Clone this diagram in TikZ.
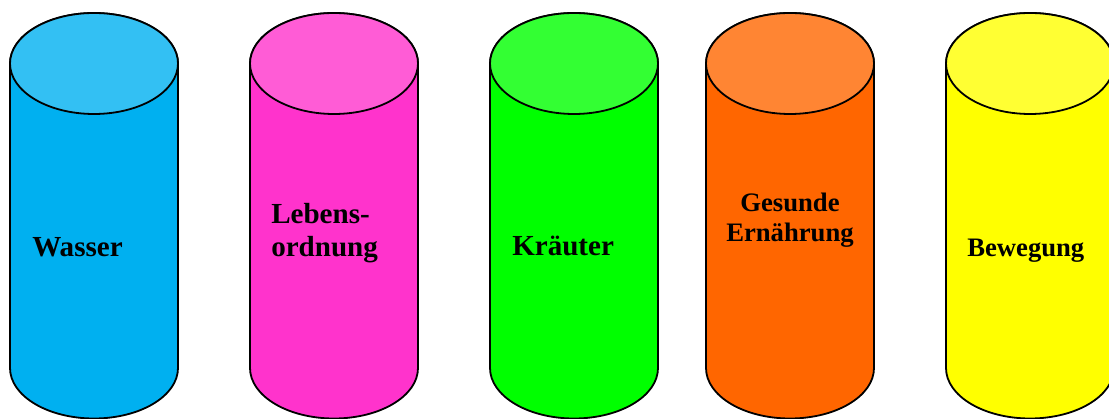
\documentclass[tikz,border=0pt]{standalone}
\usepackage{fontspec}
\setmainfont{Liberation Serif}

\definecolor{wasserbody}{HTML}{00B0F0}
\definecolor{wassertop}{HTML}{33C0F3}
\definecolor{lebensbody}{HTML}{FF33CC}
\definecolor{lebenstop}{HTML}{FF5CD6}
\definecolor{kraeuterbody}{HTML}{00FF00}
\definecolor{kraeutertop}{HTML}{33FF33}
\definecolor{gesundbody}{HTML}{FF6600}
\definecolor{gesundtop}{HTML}{FF8533}
\definecolor{bewegbody}{HTML}{FFFF00}
\definecolor{bewegtop}{HTML}{FFFF33}

\tikzset{
  pillar/.style={draw=black, line width=1.35pt},
  biglabel/.style={inner sep=0pt, font=\bfseries\fontsize{21.8}{24.75}\selectfont},
  smalllabel/.style={inner sep=0pt, font=\bfseries\fontsize{20}{22.5}\selectfont},
}

\begin{document}
\begin{tikzpicture}[x=0.75pt, y=0.75pt]
\clip (0,0) rectangle (1109,418);

% the five pillars
\foreach \cx/\name in {94/wasser, 334/lebens, 574/kraeuter, 790/gesund, 1030/beweg} {
  \filldraw[pillar, fill=\name body] (\cx-84,354.5) -- (\cx-84,50)
    arc[start angle=180, end angle=360, x radius=84, y radius=50.5]
    -- (\cx+84,354.5)
    arc[start angle=0, end angle=180, x radius=84, y radius=50.5] -- cycle;
  \filldraw[pillar, fill=\name top] (\cx,354.5) ellipse[x radius=84, y radius=50.5];
}

% labels
\node[biglabel, anchor=base west] (wasser) at (32,161.3) {Wasser};
\node[biglabel, anchor=north west, align=left] (lebens) at (271,215) {Lebens-\\ordnung};
\node[biglabel, anchor=base west] (kraeuter) at (512,163) {Kräuter};
\node[smalllabel, anchor=north, align=center] (gesund) at (790,225) {Gesunde\\Ernährung};
\node[smalllabel, anchor=base west] (beweg) at (967,161.3) {Bewegung};
\end{tikzpicture}
\end{document}
